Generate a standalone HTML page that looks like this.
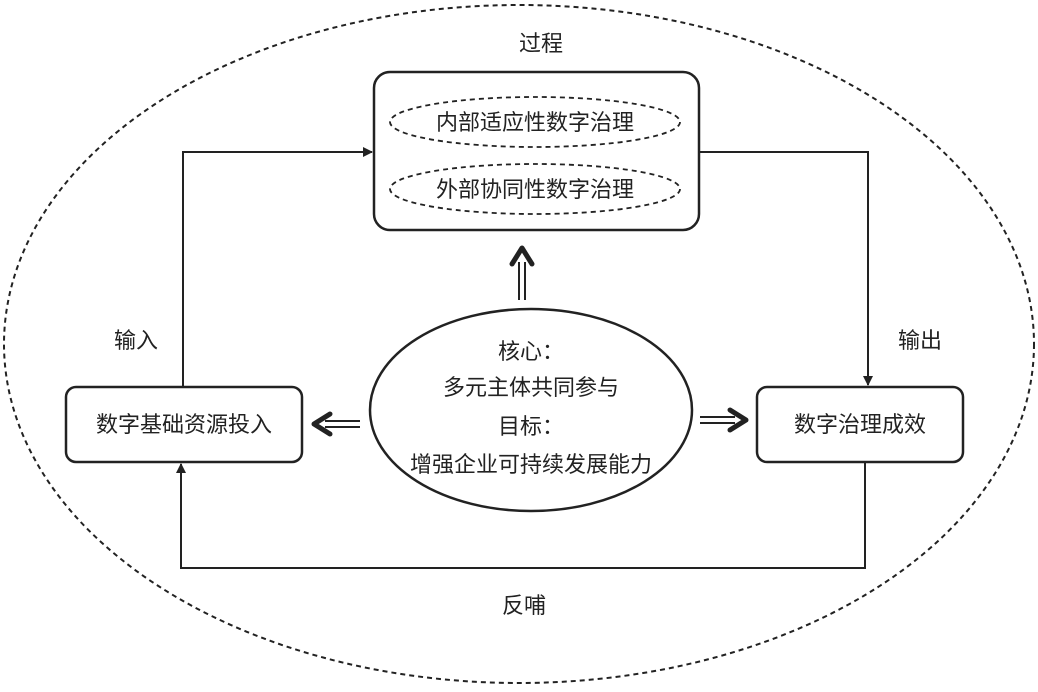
<!DOCTYPE html>
<html><head><meta charset="utf-8"><style>
body{margin:0;background:#fff}
text{font-family:"Liberation Sans","Noto Sans CJK SC",sans-serif;font-size:22px;fill:#222}
</style></head><body>
<svg width="1038" height="687" viewBox="0 0 1038 687">
<defs><marker id="a" markerWidth="10" markerHeight="10" refX="9" refY="5" orient="auto" markerUnits="userSpaceOnUse"><path d="M0,0 L10,5 L0,10 z" fill="#222"/></marker></defs>
<ellipse cx="519" cy="344" rx="515" ry="339" fill="none" stroke="#222" stroke-width="2" stroke-dasharray="5,4"/>
<rect x="374" y="72" width="325" height="158" rx="16" fill="#fff" stroke="#222" stroke-width="2.5"/>
<ellipse cx="535" cy="122" rx="145" ry="25" fill="none" stroke="#222" stroke-width="1.8" stroke-dasharray="5,4"/>
<ellipse cx="535" cy="189" rx="145" ry="25" fill="none" stroke="#222" stroke-width="1.8" stroke-dasharray="5,4"/>
<text x="535" y="130" text-anchor="middle">内部适应性数字治理</text>
<text x="535" y="197" text-anchor="middle">外部协同性数字治理</text>
<rect x="66" y="387" width="236" height="75" rx="10" fill="#fff" stroke="#222" stroke-width="2.5"/>
<text x="184" y="432" text-anchor="middle">数字基础资源投入</text>
<rect x="757" y="387" width="206" height="75" rx="10" fill="#fff" stroke="#222" stroke-width="2.5"/>
<text x="860" y="432" text-anchor="middle">数字治理成效</text>
<ellipse cx="531" cy="410" rx="161" ry="101" fill="#fff" stroke="#222" stroke-width="2.5"/>
<text x="531" y="359" text-anchor="middle">核心：</text>
<text x="531" y="395" text-anchor="middle">多元主体共同参与</text>
<text x="531" y="434" text-anchor="middle">目标：</text>
<text x="531" y="472" text-anchor="middle">增强企业可持续发展能力</text>
<path d="M183,387 V152 H372" fill="none" stroke="#222" stroke-width="2" marker-end="url(#a)"/>
<path d="M699,152 H868 V385" fill="none" stroke="#222" stroke-width="2" marker-end="url(#a)"/>
<path d="M865,462 V568 H181 V464" fill="none" stroke="#222" stroke-width="2" marker-end="url(#a)"/>
<g stroke="#222" fill="none">
<path d="M519,300 V262 M525,300 V262" stroke-width="2"/>
<path d="M512,264 L522,248 L532,264" stroke-width="5" stroke-linecap="round" stroke-linejoin="round"/>
<path d="M360,421 H325 M360,427 H325" stroke-width="2"/>
<path d="M330,414 L314,424 L330,434" stroke-width="5" stroke-linecap="round" stroke-linejoin="round"/>
<path d="M700,417 H735 M700,423 H735" stroke-width="2"/>
<path d="M730,410 L746,420 L730,430" stroke-width="5" stroke-linecap="round" stroke-linejoin="round"/>
</g>
<text x="541" y="51" text-anchor="middle">过程</text>
<text x="136" y="348" text-anchor="middle">输入</text>
<text x="920" y="348" text-anchor="middle">输出</text>
<text x="524" y="613" text-anchor="middle">反哺</text>
</svg>
</body></html>
